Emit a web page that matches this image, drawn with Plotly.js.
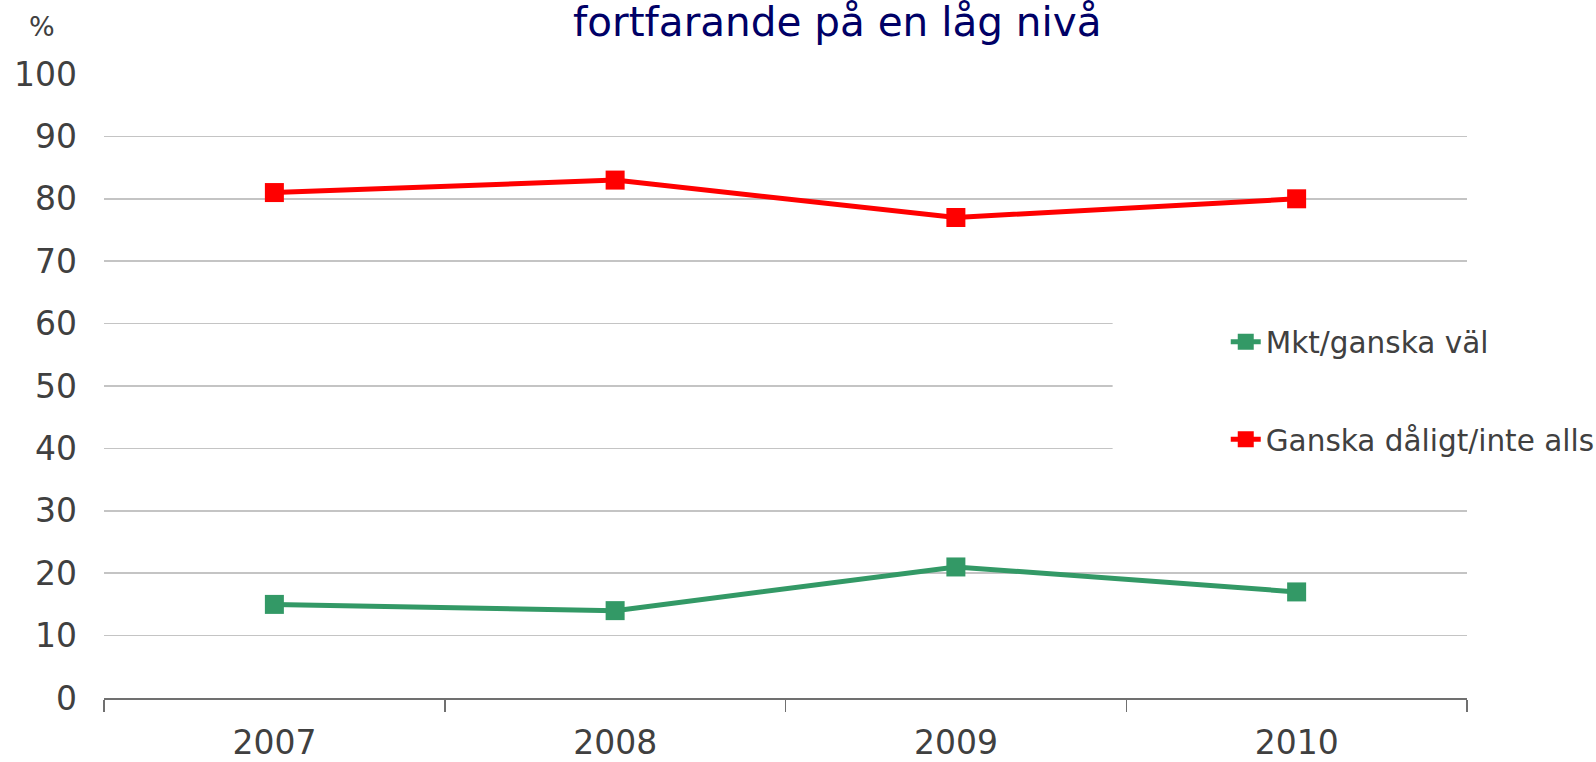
<!DOCTYPE html>
<html>
<head>
<meta charset="utf-8">
<script src="https://cdn.plot.ly/plotly-3.0.1.min.js"></script>
<style>html,body{margin:0;padding:0;background:#fff;}#chart{width:1596px;height:762px;}</style>
</head>
<body>
<div id="chart"></div>
<script>
const years = ["2007", "2008", "2009", "2010"];
const seriesNames = ["Mkt/ganska väl", "Ganska dåligt/inte alls"];
const mktGanskaVal = [15, 14, 21, 17];
const ganskaDaligt = [81, 83, 77, 80];
const yTicks = [0, 10, 20, 30, 40, 50, 60, 70, 80, 90, 100];
const titleText = "fortfarande på en låg nivå";
const unitLabel = "%";

const FONT = "DejaVu Sans, Verdana, sans-serif";
const TXT = "#404040";

const traces = [
  {
    x: years, y: mktGanskaVal, name: seriesNames[0], type: "scatter", mode: "lines+markers",
    line: {color: "#339966", width: 5},
    marker: {symbol: "square", size: 19, color: "#339966"},
    legendgroup: "a"
  },
  {
    x: years, y: ganskaDaligt, name: seriesNames[1], type: "scatter", mode: "lines+markers",
    line: {color: "#ff0000", width: 5},
    marker: {symbol: "square", size: 19, color: "#ff0000"},
    legendgroup: "b"
  }
];

const layout = {
  width: 1596, height: 762,
  margin: {l: 104, r: 129, t: 74, b: 64, autoexpand: false},
  paper_bgcolor: "#ffffff", plot_bgcolor: "#ffffff",
  font: {family: FONT, color: TXT},
  showlegend: true,
  legend: {
    x: 0.823, xanchor: "left", y: 0.612, yanchor: "top",
    bgcolor: "rgba(0,0,0,0)",
    font: {family: FONT, size: 29.5, color: TXT},
    tracegroupgap: 56,
    traceorder: "grouped"
  },
  xaxis: {
    type: "category",
    range: [-0.5, 3.5],
    showgrid: false,
    showline: true, linecolor: "#707070", linewidth: 2,
    ticks: "outside", tickson: "boundaries", ticklen: 12, tickcolor: "#707070", tickwidth: 1.5,
    tickfont: {family: FONT, size: 33, color: TXT},
    ticklabelstandoff: 14,
    zeroline: false, fixedrange: true, automargin: false
  },
  yaxis: {
    range: [0, 100],
    tickvals: yTicks,
    ticktext: yTicks.map(String),
    showgrid: true, gridcolor: "#c4c4c4", gridwidth: 1.5,
    showline: false, ticks: "",
    tickfont: {family: FONT, size: 33, color: TXT},
    ticklabelstandoff: 26,
    zeroline: false, fixedrange: true, automargin: false
  },
  shapes: [
    {type: "rect", layer: "above", xref: "paper", yref: "y",
     x0: 0.740, x1: 1.02, y0: 35, y1: 63, fillcolor: "#ffffff", line: {width: 0}}
  ],
  annotations: [
    {text: titleText, xref: "paper", yref: "paper", x: 0.538, y: 1.084,
     xanchor: "center", yanchor: "middle", showarrow: false,
     font: {family: FONT, size: 40.5, color: "#000066"}},
    {text: unitLabel, xref: "paper", yref: "paper", x: -0.0455, y: 1.076,
     xanchor: "center", yanchor: "middle", showarrow: false,
     font: {family: FONT, size: 27, color: TXT}}
  ]
};

Plotly.newPlot("chart", traces, layout, {displayModeBar: false, staticPlot: true});
</script>
</body>
</html>
